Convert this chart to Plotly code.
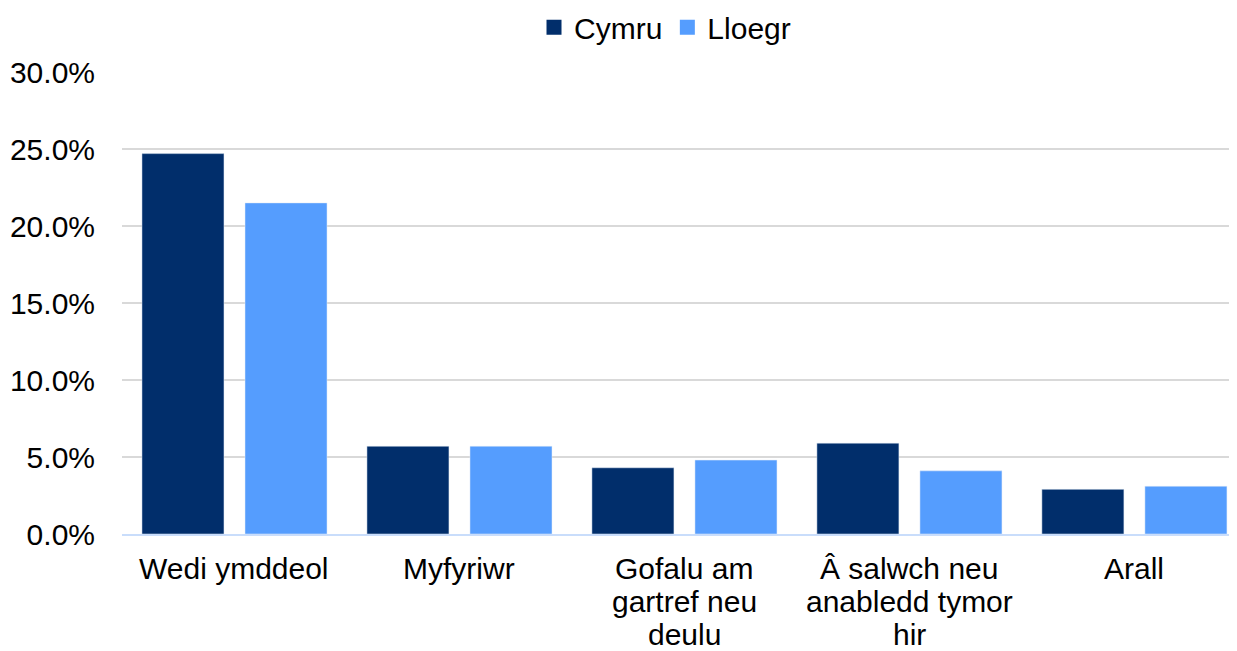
import plotly.graph_objects as go

categories = ["Wedi ymddeol", "Myfyriwr", "Gofalu am<br>gartref neu<br>deulu",
              "Â salwch neu<br>anabledd tymor<br>hir", "Arall"]
cymru = [24.7, 5.7, 4.3, 5.9, 2.9]
lloegr = [21.5, 5.7, 4.8, 4.1, 3.1]
tick_vals = [0, 5, 10, 15, 20, 25, 30]
tick_text = ["0.0%", "5.0%", "10.0%", "15.0%", "20.0%", "25.0%", "30.0%"]

col_cymru = "#012E6B"
col_lloegr = "#559DFE"

fig = go.Figure()
fig.add_trace(go.Bar(name="Cymru", x=categories, y=cymru, marker_color=col_cymru,
                     showlegend=False))
fig.add_trace(go.Bar(name="Lloegr", x=categories, y=lloegr, marker_color=col_lloegr,
                     showlegend=False))
# legend proxies (larger square symbols)
for name, col in [("Cymru", col_cymru), ("Lloegr", col_lloegr)]:
    fig.add_trace(go.Scatter(name=name, x=[None], y=[None], mode="markers",
                             marker=dict(symbol="square", size=15, color=col)))

font = dict(family="Liberation Sans, Arial, sans-serif", size=30, color="#000000")

# category labels drawn line by line (tighter line spacing than tick labels allow)
line_step = 33
first_shift = 16
for cat in categories:
    for i, line in enumerate(cat.split("<br>")):
        fig.add_annotation(x=cat, xref="x", y=0, yref="paper", text=line,
                           showarrow=False, xanchor="center", yanchor="top",
                           yshift=-(first_shift + i * line_step), font=font)

fig.update_layout(
    width=1229, height=643,
    margin=dict(l=114, r=0, t=64, b=117),
    barmode="group", bargap=0.084, bargroupgap=0.204,
    plot_bgcolor="white", paper_bgcolor="white",
    font=font,
    legend=dict(orientation="h", x=0.487, xanchor="center",
                yref="container", y=0.97, yanchor="middle",
                font=font, itemwidth=30, traceorder="normal", tracegroupgap=0,
                bgcolor="rgba(0,0,0,0)"),
    xaxis=dict(showline=True, linecolor="#C9DDFB", linewidth=2, ticks="",
               range=[-0.5, 4.456], showticklabels=False, automargin=False),
    yaxis=dict(range=[0, 30], tickmode="array", tickvals=tick_vals, ticktext=tick_text,
               showgrid=True, gridcolor="#D9D9D9", gridwidth=2, zeroline=False,
               tickfont=font, ticklabelstandoff=26, automargin=False),
)
fig.write_html("out.html")
